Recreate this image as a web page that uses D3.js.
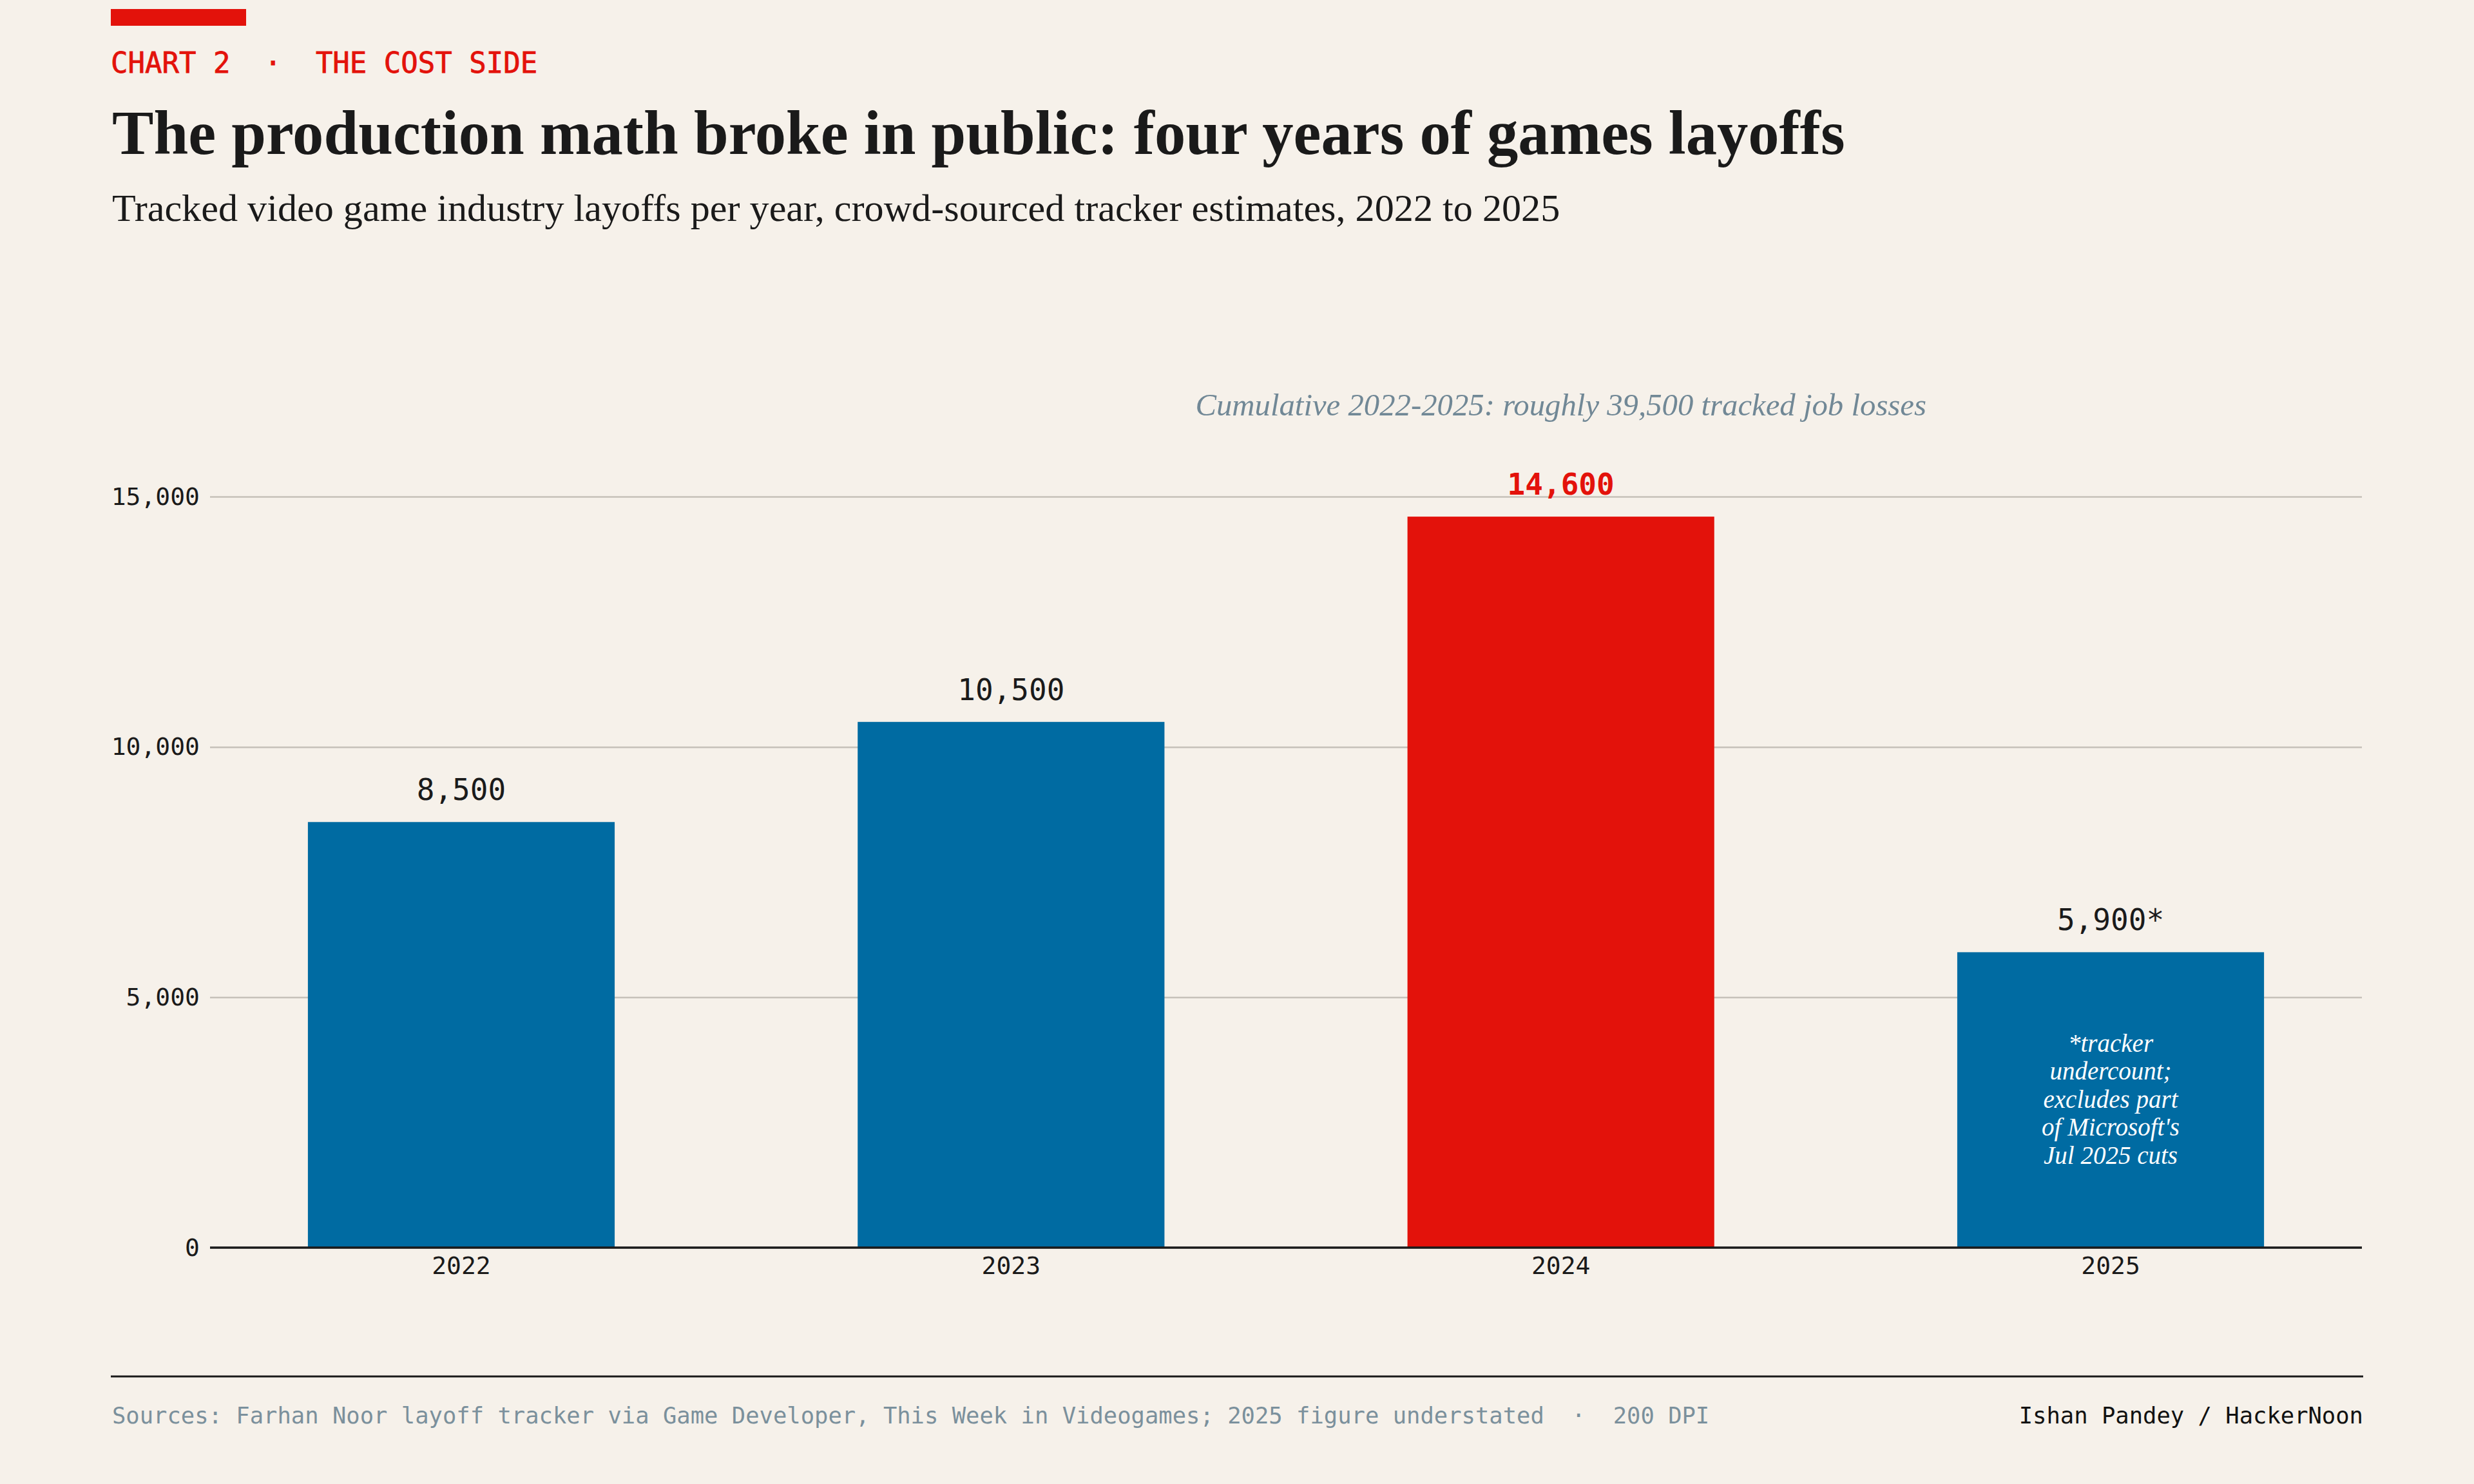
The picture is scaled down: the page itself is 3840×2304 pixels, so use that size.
<!DOCTYPE html>
<meta charset="utf-8">
<title>Games layoffs per year</title>
<script src="https://d3js.org/d3.v7.min.js"></script>
<style>
  body { margin: 0; background: #f6f1ea; }
  svg { display: block; }
</style>
<body>
<svg class="chart"></svg>
<script>

// data
var years = ["2022", "2023", "2024", "2025"];
var layoffs = [8500, 10500, 14600, 5900];
var value_labels = ["8,500", "10,500", "14,600", "5,900*"];
var highlight_year = "2024";
var y_ticks = [0, 5000, 10000, 15000];
var note_year = "2025";
var note_lines = ["*tracker", "undercount;", "excludes part", "of Microsoft's", "Jul 2025 cuts"];

var kicker = "CHART 2  \u00b7  THE COST SIDE";
var title = "The production math broke in public: four years of games layoffs";
var subtitle = "Tracked video game industry layoffs per year, crowd-sourced tracker estimates, 2022 to 2025";
var annotation = "Cumulative 2022-2025: roughly 39,500 tracked job losses";
var sources = "Sources: Farhan Noor layoff tracker via Game Developer, This Week in Videogames; 2025 figure understated  \u00b7  200 DPI";
var credit = "Ishan Pandey / HackerNoon";

var width = 3840;
var height = 2304;
var left = 326, right = 3666;
var bottom = 1937;

var blue = "#006ba2";
var red = "#e3120b";
var ink = "#1a1a1a";
var slate = "#718896";
var mono = "'DejaVu Sans Mono', 'Liberation Mono', monospace";
var serif = "'Liberation Serif', 'DejaVu Serif', serif";

var svg = d3.select(".chart")
  .attr("width", width)
  .attr("height", height);

svg.append("rect")
  .attr("width", width).attr("height", height)
  .attr("fill", "#f6f1ea");

// shrink/grow a text so it spans the given width
function fit(sel, w) {
  var len = sel.node().getComputedTextLength();
  var size = parseFloat(sel.attr("font-size"));
  sel.attr("font-size", size * w / len);
}

// header
svg.append("rect")
  .attr("x", 172).attr("y", 14)
  .attr("width", 210).attr("height", 26)
  .attr("fill", red);

svg.append("text")
  .attr("x", 172).attr("y", 113)
  .attr("font-family", mono)
  .attr("font-size", 44)
  .attr("fill", red)
  .attr("stroke", red)
  .attr("stroke-width", 0.8)
  .style("white-space", "pre")
  .text(kicker);

var title_text = svg.append("text")
  .attr("x", 174).attr("y", 239)
  .attr("font-family", serif)
  .attr("font-weight", "bold")
  .attr("font-size", 84)
  .attr("fill", ink)
  .text(title);
fit(title_text, 2690);

var sub_text = svg.append("text")
  .attr("x", 174).attr("y", 343)
  .attr("font-family", serif)
  .attr("font-size", 50)
  .attr("fill", ink)
  .text(subtitle);
fit(sub_text, 2248);

// scales
var x = d3.scaleBand()
  .domain(years)
  .range([left, right])
  .paddingInner(0.442)
  .paddingOuter(0.178);

var y = d3.scaleLinear()
  .domain([0, 15000])
  .range([bottom, 771]);

// grid + y labels
var y_axis = svg.append("g")
  .attr("transform", "translate(" + left + ",0)")
  .call(d3.axisLeft(y)
    .tickValues(y_ticks)
    .tickSize(-(right - left))
    .tickPadding(16)
    .tickFormat(d3.format(",")));

y_axis.select(".domain").remove();
y_axis.selectAll("line")
  .attr("stroke", "#c6c1b9")
  .attr("stroke-width", 2.5);
y_axis.selectAll("text")
  .attr("font-family", mono)
  .attr("font-size", 38)
  .attr("fill", ink);

// annotation over the highlighted bar
var note_text = svg.append("text")
  .attr("x", x(highlight_year) + x.bandwidth() / 2)
  .attr("y", 645)
  .attr("text-anchor", "middle")
  .attr("font-family", serif)
  .attr("font-style", "italic")
  .attr("font-size", 46)
  .attr("fill", slate)
  .text(annotation);
fit(note_text, 1135);

// bars
svg.selectAll(".bar")
  .data(layoffs)
  .enter().append("rect")
    .attr("class", "bar")
    .attr("x", function(d, i) { return x(years[i]); })
    .attr("y", function(d) { return y(d); })
    .attr("width", x.bandwidth())
    .attr("height", function(d) { return y(0) - y(d); })
    .attr("fill", function(d, i) { return years[i] == highlight_year ? red : blue; });

svg.selectAll(".value")
  .data(layoffs)
  .enter().append("text")
    .attr("class", "value")
    .attr("x", function(d, i) { return x(years[i]) + x.bandwidth() / 2; })
    .attr("y", function(d) { return y(d) - 34; })
    .attr("text-anchor", "middle")
    .attr("font-family", mono)
    .attr("font-size", 46)
    .attr("font-weight", function(d, i) { return years[i] == highlight_year ? "bold" : "normal"; })
    .attr("fill", function(d, i) { return years[i] == highlight_year ? red : ink; })
    .text(function(d, i) { return value_labels[i]; });

// note inside the 2025 bar
var note_i = years.indexOf(note_year);
var line_h = 43.5;
var note_mid = y(layoffs[note_i] / 2);
var note = svg.append("text")
  .attr("text-anchor", "middle")
  .attr("font-family", serif)
  .attr("font-style", "italic")
  .attr("font-size", 39)
  .attr("fill", "#ffffff");
note.selectAll("tspan")
  .data(note_lines)
  .enter().append("tspan")
    .attr("x", x(note_year) + x.bandwidth() / 2)
    .attr("y", function(d, i) { return note_mid + 12 + (i - (note_lines.length - 1) / 2) * line_h; })
    .text(function(d) { return d; });

// baseline + x labels
var x_axis = svg.append("g")
  .attr("transform", "translate(0," + bottom + ")")
  .call(d3.axisBottom(x).tickSize(0).tickPadding(14));
x_axis.select(".domain").remove();
x_axis.selectAll("text")
  .attr("font-family", mono)
  .attr("font-size", 38)
  .attr("fill", ink);

svg.append("line")
  .attr("x1", left).attr("x2", right)
  .attr("y1", y(0)).attr("y2", y(0))
  .attr("stroke", ink)
  .attr("stroke-width", 3.5);

// footer
svg.append("line")
  .attr("x1", 172).attr("x2", 3668)
  .attr("y1", 2137).attr("y2", 2137)
  .attr("stroke", ink)
  .attr("stroke-width", 3);

svg.append("text")
  .attr("x", 174).attr("y", 2210)
  .attr("font-family", mono)
  .attr("font-size", 35.5)
  .attr("fill", "#7b909c")
  .style("white-space", "pre")
  .text(sources);

svg.append("text")
  .attr("x", 3668).attr("y", 2210)
  .attr("text-anchor", "end")
  .attr("font-family", mono)
  .attr("font-size", 35.5)
  .attr("fill", "#111111")
  .text(credit);

</script>
</body>
